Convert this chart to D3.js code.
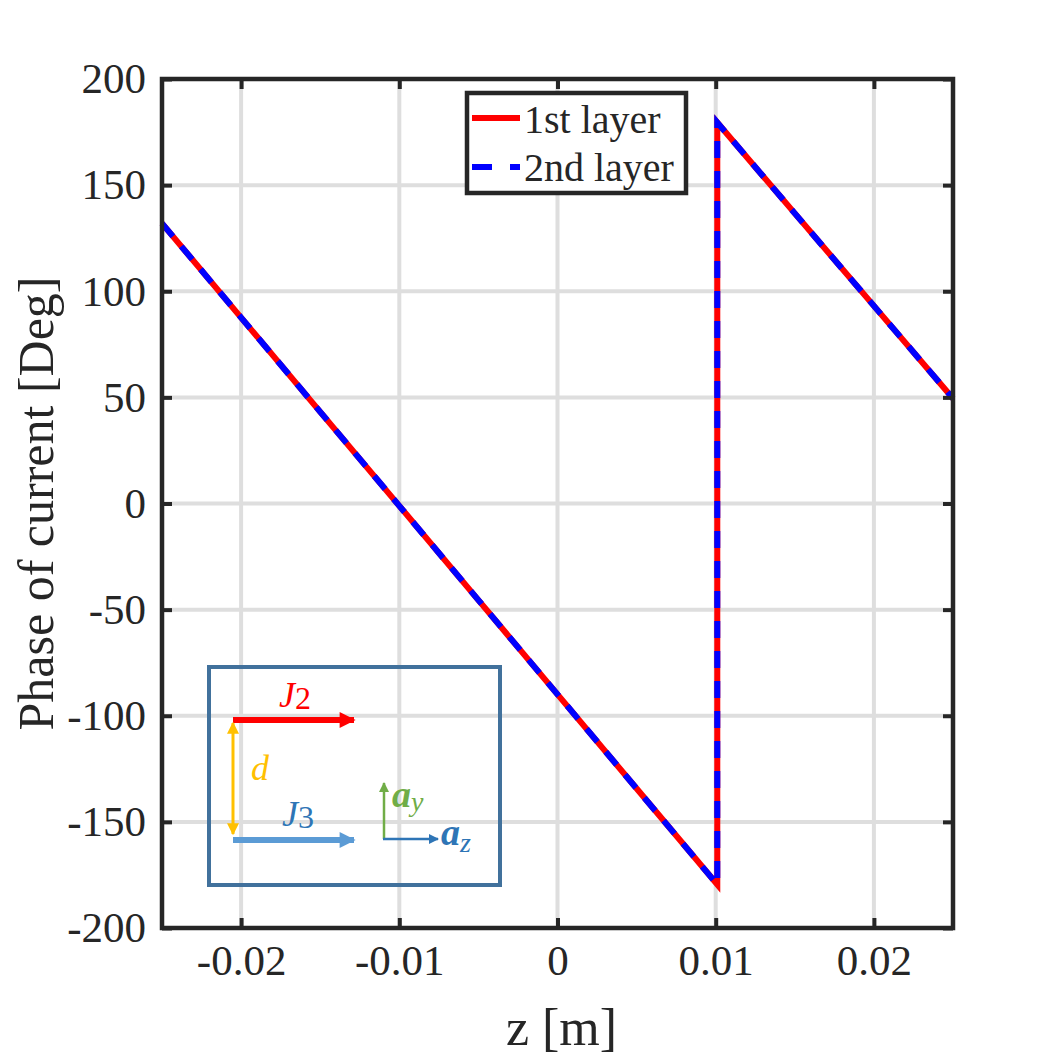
<!DOCTYPE html>
<html>
<head>
<meta charset="utf-8">
<script src="https://cdn.jsdelivr.net/npm/d3@7"></script>
<style>
  body { margin: 0; background: #fff; }
  text { font-family: 'Liberation Serif', 'Times New Roman', serif; fill: #262626; }
</style>
</head>
<body>
<div id="chart"></div>
<script>
// position along z [m]
const zValues = [-0.025, -0.02, -0.015, -0.01, -0.005, 0, 0.005, 0.0101, 0.0101, 0.015, 0.02, 0.025];
// phase of current [Deg]
const layer1Phase = [132, 87.6, 43.2, -1.1, -45.5, -89.9, -134.3, -179.5, 179.5, 136.7, 93.1, 49.5];
const layer2Phase = [132, 87.6, 43.2, -1.1, -45.5, -89.9, -134.3, -179.5, 179.5, 136.7, 93.1, 49.5];
const seriesNames = ['1st layer', '2nd layer'];
const xTicks = [-0.02, -0.01, 0, 0.01, 0.02];
const xTickLabels = ['-0.02', '-0.01', '0', '0.01', '0.02'];
const yTicks = [-200, -150, -100, -50, 0, 50, 100, 150, 200];

const margin = { top: 79, right: 102, bottom: 127, left: 162 },
    width = 791,
    height = 849;

const svg = d3.select('#chart')
    .append('svg')
    .attr('width', 1055)
    .attr('height', 1055)
    .append('g')
    .attr('transform', 'translate(' + margin.left + ',' + margin.top + ')');

const xScale = d3.scaleLinear()
    .domain([-0.025, 0.025])
    .range([0, width]);

const yScale = d3.scaleLinear()
    .domain([-200, 200])
    .range([height, 0]);

// grid
svg.append('g')
    .selectAll('line')
    .data(xTicks)
    .enter()
    .append('line')
    .attr('x1', d => xScale(d))
    .attr('x2', d => xScale(d))
    .attr('y1', 0)
    .attr('y2', height)
    .attr('stroke', '#dedede')
    .attr('stroke-width', 4);

svg.append('g')
    .selectAll('line')
    .data(yTicks.slice(1, -1))
    .enter()
    .append('line')
    .attr('x1', 0)
    .attr('x2', width)
    .attr('y1', d => yScale(d))
    .attr('y2', d => yScale(d))
    .attr('stroke', '#dedede')
    .attr('stroke-width', 4);

// inset sketch (decoration, placed in plot pixels)
const inset = svg.append('g').attr('transform', 'translate(47,588)');

const defs = d3.select('svg').append('defs');
function arrowHead(id, color, w, h) {
    defs.append('marker')
        .attr('id', id)
        .attr('viewBox', '0 0 10 10')
        .attr('refX', 9)
        .attr('refY', 5)
        .attr('markerUnits', 'userSpaceOnUse')
        .attr('markerWidth', w)
        .attr('markerHeight', h)
        .attr('orient', 'auto-start-reverse')
        .append('path')
        .attr('d', 'M0,0 L10,5 L0,10 Z')
        .attr('fill', color);
}
arrowHead('ahRed', '#ff0000', 18, 16);
arrowHead('ahLight', '#5b9bd5', 18, 16);
arrowHead('ahGold', '#ffc000', 12, 12);
arrowHead('ahGreen', '#70ad47', 10, 10);
arrowHead('ahBlue', '#2e75b6', 12, 10);

inset.append('rect')
    .attr('x', 0)
    .attr('y', 0)
    .attr('width', 291)
    .attr('height', 218)
    .attr('fill', 'none')
    .attr('stroke', '#41719c')
    .attr('stroke-width', 4);

inset.append('line')
    .attr('x1', 24).attr('y1', 53).attr('x2', 145).attr('y2', 53)
    .attr('stroke', '#ff0000').attr('stroke-width', 6)
    .attr('marker-end', 'url(#ahRed)');

inset.append('line')
    .attr('x1', 24).attr('y1', 173).attr('x2', 145).attr('y2', 173)
    .attr('stroke', '#5b9bd5').attr('stroke-width', 6)
    .attr('marker-end', 'url(#ahLight)');

inset.append('line')
    .attr('x1', 24).attr('y1', 56).attr('x2', 24).attr('y2', 167)
    .attr('stroke', '#ffc000').attr('stroke-width', 3)
    .attr('marker-start', 'url(#ahGold)')
    .attr('marker-end', 'url(#ahGold)');

inset.append('line')
    .attr('x1', 175).attr('y1', 172).attr('x2', 175).attr('y2', 116)
    .attr('stroke', '#70ad47').attr('stroke-width', 2.5)
    .attr('marker-end', 'url(#ahGreen)');

inset.append('line')
    .attr('x1', 174).attr('y1', 172).attr('x2', 229).attr('y2', 172)
    .attr('stroke', '#2e75b6').attr('stroke-width', 2.5)
    .attr('marker-end', 'url(#ahBlue)');

function mathLabel(x, y, main, sub, color, size, subSize, subDy, bold) {
    const t = inset.append('text')
        .attr('x', x)
        .attr('y', y)
        .style('fill', color)
        .style('font-size', size + 'px')
        .style('font-style', 'italic')
        .style('font-weight', bold ? 'bold' : 'normal')
        .text(main);
    if (sub) {
        t.append('tspan')
            .attr('dy', subDy)
            .style('font-size', subSize + 'px')
            .style('font-style', /[0-9]/.test(sub) ? 'normal' : 'italic')
            .style('font-weight', 'normal')
            .text(sub);
    }
}
mathLabel(70, 40, 'J', '2', '#ff0000', 36, 32, 2, false);
mathLabel(42, 113, 'd', null, '#ffc000', 36, 0, 0, false);
mathLabel(73, 159, 'J', '3', '#2e75b6', 36, 32, 2, false);
mathLabel(183, 140, 'a', 'y', '#70ad47', 38, 28, 4, true);
mathLabel(232, 178, 'a', 'z', '#2e75b6', 38, 28, 7, true);

// series
const line = d3.line()
    .x(d => xScale(d[0]))
    .y(d => yScale(d[1]));

svg.append('path')
    .datum(zValues.map((z, i) => [z, layer1Phase[i]]))
    .attr('d', line)
    .attr('fill', 'none')
    .attr('stroke', '#ff0000')
    .attr('stroke-width', 6);

svg.append('path')
    .datum(zValues.map((z, i) => [z, layer2Phase[i]]))
    .attr('d', line)
    .attr('fill', 'none')
    .attr('stroke', '#0000ff')
    .attr('stroke-width', 6)
    .attr('stroke-dasharray', '17,13');

// axes box with inward ticks on all sides
svg.append('g')
    .attr('transform', 'translate(0,' + height + ')')
    .call(d3.axisBottom(xScale).tickValues(xTicks).tickSizeInner(-10).tickSizeOuter(0)
        .tickFormat((d, i) => xTickLabels[i]).tickPadding(16))
    .call(g => g.select('.domain').remove())
    .call(g => g.selectAll('line').attr('stroke', '#262626').attr('stroke-width', 4))
    .call(g => g.selectAll('text').style('font-size', '43px').attr('font-family', null).attr('fill', null));

svg.append('g')
    .call(d3.axisTop(xScale).tickValues(xTicks).tickSizeInner(-10).tickSizeOuter(0).tickFormat(''))
    .call(g => g.select('.domain').remove())
    .call(g => g.selectAll('line').attr('stroke', '#262626').attr('stroke-width', 4));

svg.append('g')
    .call(d3.axisLeft(yScale).tickValues(yTicks).tickSizeInner(-10).tickSizeOuter(0).tickPadding(16)
        .tickFormat(d => String(d)))
    .call(g => g.select('.domain').remove())
    .call(g => g.selectAll('line').attr('stroke', '#262626').attr('stroke-width', 4))
    .call(g => g.selectAll('text').style('font-size', '43px').attr('font-family', null).attr('fill', null));

svg.append('g')
    .attr('transform', 'translate(' + width + ',0)')
    .call(d3.axisRight(yScale).tickValues(yTicks).tickSizeInner(-10).tickSizeOuter(0).tickFormat(''))
    .call(g => g.select('.domain').remove())
    .call(g => g.selectAll('line').attr('stroke', '#262626').attr('stroke-width', 4));

svg.append('rect')
    .attr('x', 0)
    .attr('y', 0)
    .attr('width', width)
    .attr('height', height)
    .attr('fill', 'none')
    .attr('stroke', '#262626')
    .attr('stroke-width', 4.5);

// axis labels
svg.append('text')
    .attr('text-anchor', 'middle')
    .attr('x', width / 2 + 4)
    .attr('y', height + 117)
    .style('font-size', '52px')
    .text('z [m]');

svg.append('text')
    .attr('text-anchor', 'middle')
    .attr('transform', 'translate(-109,' + (height / 2) + ') rotate(-90)')
    .style('font-size', '50px')
    .text('Phase of current [Deg]');

// legend
const legend = svg.append('g').attr('transform', 'translate(305,14)');

legend.append('rect')
    .attr('x', 0)
    .attr('y', 0)
    .attr('width', 219)
    .attr('height', 100)
    .attr('fill', '#fff')
    .attr('stroke', '#262626')
    .attr('stroke-width', 4.5);

const legendColors = ['#ff0000', '#0000ff'];
const legendDash = [null, '20,18'];

legend.selectAll('line.entry')
    .data(seriesNames)
    .enter()
    .append('line')
    .attr('class', 'entry')
    .attr('x1', 5)
    .attr('x2', 53)
    .attr('y1', (d, i) => 25 + i * 49)
    .attr('y2', (d, i) => 25 + i * 49)
    .attr('stroke', (d, i) => legendColors[i])
    .attr('stroke-width', 6)
    .attr('stroke-dasharray', (d, i) => legendDash[i]);

legend.selectAll('text')
    .data(seriesNames)
    .enter()
    .append('text')
    .attr('x', 57)
    .attr('y', (d, i) => 40 + i * 48)
    .style('font-size', '40px')
    .text(d => d);
</script>
</body>
</html>
